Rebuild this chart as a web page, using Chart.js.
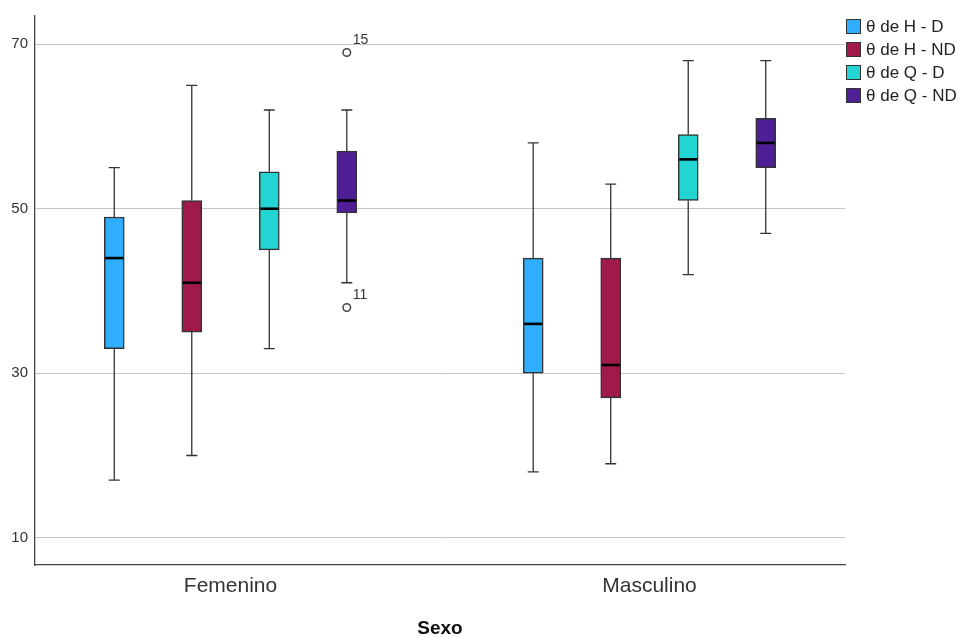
<!DOCTYPE html>
<html lang="es">
<head>
<meta charset="utf-8">
<title>Sexo - boxplot</title>
<script src="https://cdn.jsdelivr.net/npm/chart.js@4.4.1/dist/chart.umd.min.js"></script>
<style>
    html, body { margin: 0; padding: 0; background: #fff; }
    #wrap { width: 959px; height: 637px; }
</style>
</head>
<body>
<div id="wrap"><canvas id="boxChart" width="959" height="637"></canvas></div>
<script>
// =========================================
// 1. DADOS
// =========================================
const categorias = ['Femenino', 'Masculino'];
const series = ['θ de H - D', 'θ de H - ND', 'θ de Q - D', 'θ de Q - ND'];
const cores = ['#2eaefc', '#9f1a4b', '#22d5d2', '#4f1f95'];

// resumo de cinco números por série: [Femenino, Masculino]
const hdMin = [17, 18],   hdQ1 = [33, 30],    hdMed = [44, 36],  hdQ3 = [49, 44],    hdMax = [55, 58];
const hndMin = [20, 19],  hndQ1 = [35, 27],   hndMed = [41, 31], hndQ3 = [51, 44],   hndMax = [65, 53];
const qdMin = [33, 42],   qdQ1 = [45, 51],    qdMed = [50, 56],  qdQ3 = [54.5, 59],  qdMax = [62, 68];
const qndMin = [41, 47],  qndQ1 = [49.5, 55], qndMed = [51, 58], qndQ3 = [57, 61],   qndMax = [62, 68];

// valores atípicos (série, categoria, valor, nº do caso)
const atipicosSerie = [3, 3];
const atipicosCat = [0, 0];
const atipicosValor = [69, 38];
const atipicosCaso = ['15', '11'];

const ticksY = [10, 30, 50, 70];

const resumo = [
    { min: hdMin, q1: hdQ1, med: hdMed, q3: hdQ3, max: hdMax },
    { min: hndMin, q1: hndQ1, med: hndMed, q3: hndQ3, max: hndMax },
    { min: qdMin, q1: qdQ1, med: qdMed, q3: qdQ3, max: qdMax },
    { min: qndMin, q1: qndQ1, med: qndMed, q3: qndQ3, max: qndMax }
];

// =========================================
// 2. DESENHO DOS BIGODES, MEDIANAS, ATÍPICOS E LEGENDA
// =========================================
const FONTE = '"Liberation Sans", Arial, sans-serif';
const ESPACO_GRUPO = 0.185; // distância entre caixas dentro da categoria

const boxplotPlugin = {
    id: 'boxplot',
    afterDatasetsDraw(chart) {
        const ctx = chart.ctx;
        const y = chart.scales.y;
        const x = chart.scales.x;
        ctx.save();
        resumo.forEach((s, i) => {
            const meta = chart.getDatasetMeta(i);
            meta.data.forEach((barra, j) => {
                const cx = barra.x;
                const meia = barra.width / 2;
                const cap = 5.5;

                // bigodes
                ctx.strokeStyle = '#333';
                ctx.lineWidth = 1.3;
                ctx.beginPath();
                ctx.moveTo(cx, y.getPixelForValue(s.q3[j]));
                ctx.lineTo(cx, y.getPixelForValue(s.max[j]));
                ctx.moveTo(cx - cap, y.getPixelForValue(s.max[j]));
                ctx.lineTo(cx + cap, y.getPixelForValue(s.max[j]));
                ctx.moveTo(cx, y.getPixelForValue(s.q1[j]));
                ctx.lineTo(cx, y.getPixelForValue(s.min[j]));
                ctx.moveTo(cx - cap, y.getPixelForValue(s.min[j]));
                ctx.lineTo(cx + cap, y.getPixelForValue(s.min[j]));
                ctx.stroke();

                // mediana
                ctx.strokeStyle = '#000';
                ctx.lineWidth = 2.6;
                ctx.beginPath();
                ctx.moveTo(cx - meia + 1, y.getPixelForValue(s.med[j]));
                ctx.lineTo(cx + meia - 1, y.getPixelForValue(s.med[j]));
                ctx.stroke();
            });
        });

        // atípicos
        atipicosValor.forEach((v, k) => {
            const serie = atipicosSerie[k];
            const cx = x.getPixelForValue(atipicosCat[k] + (serie - 1.5) * ESPACO_GRUPO);
            const cy = y.getPixelForValue(v);
            ctx.beginPath();
            ctx.arc(cx, cy, 3.8, 0, Math.PI * 2);
            ctx.fillStyle = '#fff';
            ctx.fill();
            ctx.strokeStyle = '#444';
            ctx.lineWidth = 1.5;
            ctx.stroke();
            ctx.fillStyle = '#333';
            ctx.font = '14px ' + FONTE;
            ctx.textAlign = 'left';
            ctx.textBaseline = 'alphabetic';
            ctx.fillText(atipicosCaso[k], cx + 6, cy - 8);
        });
        ctx.restore();
    },
    afterDraw(chart) {
        // legenda à direita, estilo SPSS
        const ctx = chart.ctx;
        ctx.save();
        ctx.font = '17px ' + FONTE;
        ctx.textAlign = 'left';
        ctx.textBaseline = 'middle';
        series.forEach((nome, k) => {
            const topo = 19 + k * 23;
            ctx.fillStyle = cores[k];
            ctx.fillRect(846, topo, 15, 15);
            ctx.strokeStyle = '#333';
            ctx.lineWidth = 1;
            ctx.strokeRect(846.5, topo + 0.5, 14, 14);
            ctx.fillStyle = '#222';
            ctx.fillText(nome, 866, topo + 8);
        });
        ctx.restore();
    }
};

// =========================================
// 3. CONFIGURAÇÃO DO GRÁFICO (CHART.JS)
// =========================================
const datasets = series.map((nome, i) => ({
    label: nome,
    data: categorias.map((c, j) => ({
        x: j + (i - 1.5) * ESPACO_GRUPO,
        y: [resumo[i].q1[j], resumo[i].q3[j]]
    })),
    backgroundColor: cores[i],
    borderColor: '#333',
    borderWidth: 1.5,
    borderSkipped: false,
    barThickness: 20,
    grouped: false
}));

const ctx = document.getElementById('boxChart').getContext('2d');

const boxChart = new Chart(ctx, {
    type: 'bar',
    data: { datasets: datasets },
    options: {
        responsive: false,
        animation: false,
        layout: { padding: { top: 15, right: 114, left: 0, bottom: 0 } },
        plugins: {
            legend: { display: false },
            tooltip: { enabled: false }
        },
        scales: {
            x: {
                type: 'linear',
                offset: false,
                min: -0.4667,
                max: 1.4667,
                afterBuildTicks: (axis) => { axis.ticks = categorias.map((c, j) => ({ value: j })); },
                afterFit: (axis) => { axis.height = 72; },
                grid: { display: false, drawTicks: false, offset: false },
                border: { display: true, color: '#444', width: 1.3 },
                ticks: {
                    padding: 9,
                    color: '#333',
                    font: { family: FONTE, size: 21 },
                    callback: (v, idx) => categorias[idx]
                },
                title: {
                    display: true,
                    text: 'Sexo',
                    color: '#111',
                    font: { family: FONTE, size: 19, weight: 'bold', lineHeight: 0.85 },
                    padding: { top: 0, bottom: 0 }
                }
            },
            y: {
                min: 6.69,
                max: 73.43,
                afterBuildTicks: (axis) => { axis.ticks = ticksY.map(v => ({ value: v })); },
                afterFit: (axis) => { axis.width = 35; },
                grid: { color: '#c4c4c4', lineWidth: 1, drawTicks: false },
                border: { display: true, color: '#444', width: 1.3 },
                ticks: {
                    padding: 7,
                    color: '#333',
                    font: { family: FONTE, size: 15 }
                }
            }
        }
    },
    plugins: [boxplotPlugin]
});
</script>
</body>
</html>
